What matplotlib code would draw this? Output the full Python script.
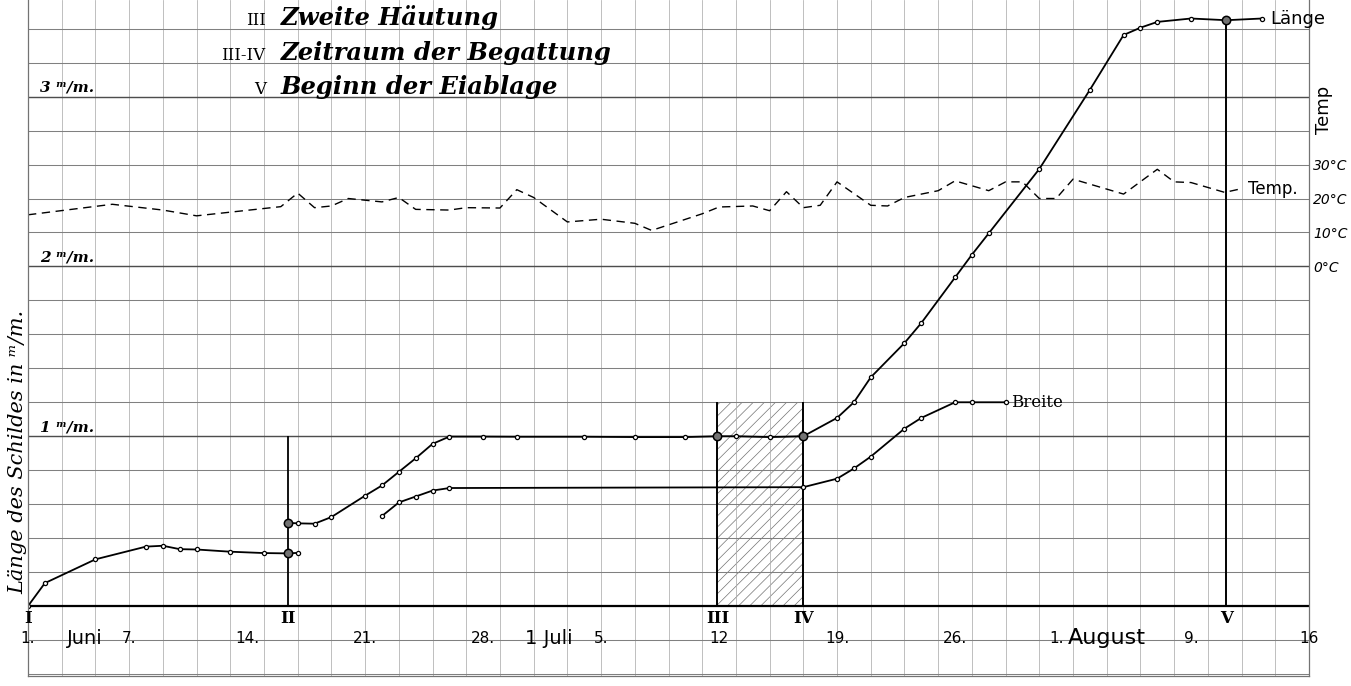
import matplotlib.pyplot as plt
import numpy as np

# x axis: days since 1 June, y axis: length in mm (temperature drawn on the same grid, 10 C = 0.2 mm, 0 C = 2 mm)
laenge1_days = [0, 1, 4, 7, 8, 9, 10, 12, 14, 15.4, 16]
laenge1_mm = [0.0, 0.135, 0.275, 0.35, 0.355, 0.335, 0.333, 0.32, 0.312, 0.31, 0.313]

laenge2_days = [15.4, 16, 17, 18, 20, 21, 22, 23, 24, 25, 27, 29, 33, 36, 39, 40.9, 42, 44, 46,
                48, 49, 50, 52, 53, 55, 56, 57, 60, 63, 65, 66, 67, 69, 71.1, 73.2]
laenge2_mm = [0.49, 0.487, 0.485, 0.524, 0.65, 0.71, 0.79, 0.87, 0.955, 0.998, 0.998, 0.997, 0.997, 0.995, 0.995, 1.0, 1.0, 0.995, 1.0,
              1.108, 1.2, 1.347, 1.549, 1.667, 1.935, 2.069, 2.195, 2.574, 3.04, 3.363, 3.406, 3.44, 3.46, 3.45, 3.46]

breite_days = [21, 22, 23, 24, 25, 46, 48, 49, 50, 52, 53, 55, 56, 58]
breite_mm = [0.53, 0.61, 0.645, 0.68, 0.695, 0.70, 0.75, 0.81, 0.88, 1.045, 1.108, 1.2, 1.2, 1.2]

temp_days = [0, 5, 8, 10, 15, 16, 17, 18, 19, 21, 22, 23, 25, 26, 28, 29, 30, 32, 34, 36, 37,
             40, 41, 43, 44, 45, 46, 47, 48, 50, 51, 52, 54, 55, 57, 58, 59, 60, 61, 62, 65, 67, 68, 69, 71, 72]
temp_c = [15.2, 18.3, 16.6, 14.9, 17.6, 21.6, 17.3, 17.8, 20.0, 19.0, 20.3, 16.8, 16.6, 17.3, 17.2, 22.6, 20.3, 13.1, 13.9, 12.7, 10.6,
          15.5, 17.5, 17.8, 16.4, 22.0, 17.3, 18.0, 24.9, 18.0, 17.8, 20.3, 22.3, 25.2, 22.3, 24.9, 24.9, 20.0, 20.0, 25.7, 21.3, 28.6, 24.9, 24.7, 21.8, 22.9]

event_days = [0, 15.4, 40.9, 46, 71.1]
event_labels = ['I', 'II', 'III', 'IV', 'V']

date_days = [0, 6, 13, 20, 27, 34, 41, 48, 55, 61, 69, 76]
date_labels = ['1.', '7.', '14.', '21.', '28.', '5.', '12', '19.', '26.', '1.', '9.', '16']
month_days = [3.4, 30.9, 64.0]
month_labels = ['Juni', '1 Juli', 'August']

mm_labels = ['1 ᵐ/m.', '2 ᵐ/m.', '3 ᵐ/m.']
temp_ticks = [0, 10, 20, 30]
legend_lines = [('III', 'Zweite Häutung'), ('III-IV', 'Zeitraum der Begattung'), ('V', 'Beginn der Eiablage')]

plt.rcParams['hatch.linewidth'] = 0.5

fig = plt.figure(figsize=(13.51, 6.86), dpi=100)
ax = fig.add_axes([28 / 1351, 10 / 686, 1281 / 1351, 676 / 686])
ax.set_xlim(0, 76)
ax.set_ylim(-0.412, 3.569)

# paper grid
ax.set_xticks(np.arange(0, 77, 2))
ax.set_yticks(np.arange(-0.4, 3.6, 0.2))
ax.grid(True, axis='x', color='0.68', lw=0.55)
ax.grid(True, axis='y', color='0.5', lw=0.75)
ax.tick_params(length=0, labelbottom=False, labelleft=False)
for mm in [1, 2, 3]:
    ax.axhline(mm, color='0.3', lw=1.0)
ax.axhline(0, color='black', lw=1.6)
ax.spines['top'].set_visible(False)
for s in ['left', 'right', 'bottom']:
    ax.spines[s].set_color('0.45')
    ax.spines[s].set_linewidth(0.9)

# mating period III-IV
ax.fill_between([event_days[2], event_days[3]], 0, 1.2, facecolor='none', edgecolor='0.45', hatch='///', lw=0)
ax.vlines(event_days[1], 0, 1.0, color='black', lw=1.3)
ax.vlines(event_days[2:4], 0, 1.2, color='black', lw=1.4)
ax.vlines(event_days[4], 0, laenge2_mm[-2], color='black', lw=1.4)

# temperature
temp_mm = [2 + t / 50 for t in temp_c]
ax.plot(temp_days, temp_mm, color='black', lw=1.0, ls=(0, (6, 4)))

# length and width
mk = dict(color='black', lw=1.3, marker='o', ms=3.0, mfc='white', mec='black', mew=0.9)
ax.plot(laenge1_days, laenge1_mm, **mk)
ax.plot(laenge2_days, laenge2_mm, **mk)
ax.plot(breite_days, breite_mm, **mk)
big_x = [event_days[1], event_days[1], event_days[2], event_days[3], event_days[4]]
big_y = [laenge1_mm[-2], laenge2_mm[0], laenge2_mm[15], laenge2_mm[18], laenge2_mm[-2]]
ax.plot(big_x, big_y, 'o', ms=6, mfc='0.45', mec='black', mew=1.1)

ax.text(laenge2_days[-1] + 0.5, laenge2_mm[-1], 'Länge', fontsize=13, va='center', ha='left')
ax.text(breite_days[-1] + 0.3, breite_mm[-1], 'Breite', fontsize=12, va='center', ha='left', family='DejaVu Serif')
ax.text(temp_days[-1] + 0.4, temp_mm[-1], 'Temp.', fontsize=12, va='center', ha='left')

# mm labels inside the chart
for i, lab in enumerate(mm_labels):
    ax.text(0.7, i + 1 + 0.012, lab, fontsize=11, style='italic', weight='bold', family='DejaVu Serif', va='bottom', ha='left')

# event numerals and dates below baseline
for d, lab in zip(event_days, event_labels):
    ax.text(d, -0.075, lab, fontsize=12, weight='bold', family='DejaVu Serif', ha='center', va='center')
for d, lab in zip(date_days, date_labels):
    ax.text(d, -0.19, lab, fontsize=11, ha='center', va='center')
for d, lab, fs in zip(month_days, month_labels, [14, 14, 16]):
    ax.text(d, -0.19, lab, fontsize=fs, ha='center', va='center')

# header legend
for row, (num, txt) in enumerate(legend_lines):
    y = 3.42 - row * 0.203
    ax.text(14.1, y, num, fontsize=12, family='DejaVu Serif', ha='right', va='baseline')
    ax.text(15.0, y, txt, fontsize=17.5, family='DejaVu Serif', style='italic', weight='bold', ha='left', va='baseline')

# temperature scale on the right
sec = ax.secondary_yaxis('right', functions=(lambda m: (m - 2) * 50, lambda t: t / 50 + 2))
sec.set_yticks(temp_ticks)
sec.set_yticklabels([f'{t}°C' for t in temp_ticks], fontsize=10, style='italic')
sec.tick_params(length=0, pad=3)
sec.spines['right'].set_visible(False)
ax.text(76.9, 2.92, 'Temp', fontsize=13, rotation=90, ha='center', va='center', clip_on=False)

fig.text(18 / 1351, (686 - 452) / 686, 'Länge des Schildes in ᵐ/m.', rotation=90, fontsize=15,
         style='italic', family='DejaVu Serif', ha='center', va='center')

fig.savefig('out.png', dpi=100, facecolor='white')
